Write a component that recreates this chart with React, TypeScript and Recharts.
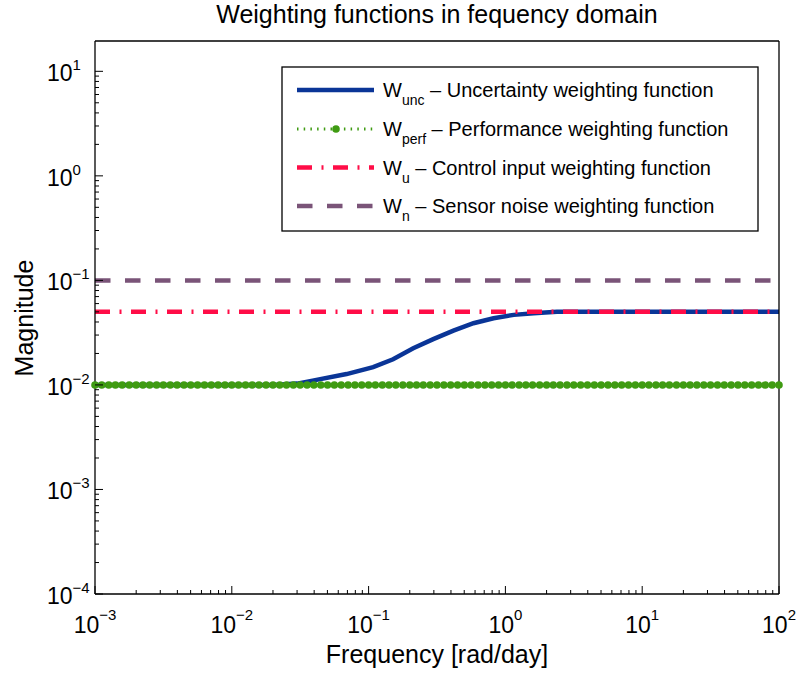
import { LineChart, Line, XAxis, YAxis } from "recharts";

const FONT = "'Liberation Sans', Arial, Helvetica, sans-serif";

// frequency grid of the sampled weights [rad/day]
const FREQ = [
  0.001, 0.00112, 0.00126, 0.00141, 0.00158, 0.00178, 0.002, 0.00224, 0.00251, 0.00282,
  0.00316, 0.00355, 0.00398, 0.00447, 0.00501, 0.00562, 0.00631, 0.00708, 0.00794, 0.00891,
  0.01, 0.0112, 0.0126, 0.0141, 0.0158, 0.0178, 0.02, 0.0224, 0.0251, 0.0282,
  0.0316, 0.0355, 0.0398, 0.0447, 0.0501, 0.0562, 0.0631, 0.0708, 0.0794, 0.0891,
  0.1, 0.112, 0.126, 0.141, 0.158, 0.178, 0.2, 0.224, 0.251, 0.282,
  0.316, 0.355, 0.398, 0.447, 0.501, 0.562, 0.631, 0.708, 0.794, 0.891,
  1, 1.12, 1.26, 1.41, 1.58, 1.78, 2, 2.24, 2.51, 2.82,
  3.16, 3.55, 3.98, 4.47, 5.01, 5.62, 6.31, 7.08, 7.94, 8.91,
  10, 11.2, 12.6, 14.1, 15.8, 17.8, 20, 22.4, 25.1, 28.2,
  31.6, 35.5, 39.8, 44.7, 50.1, 56.2, 63.1, 70.8, 79.4, 89.1, 100,
];

// W_unc
const UNC_FREQ = [0.001, 0.02, 0.03, 0.039, 0.069, 0.108, 0.151, 0.212, 0.297, 0.417, 0.584, 0.819, 1.15, 1.61, 2.38, 100];
const UNC_MAG = [0.01, 0.01, 0.0103, 0.011, 0.0127, 0.0148, 0.0176, 0.0224, 0.0274, 0.0331, 0.0389, 0.0434, 0.0468, 0.0485, 0.05, 0.05];

const PERF_LEVEL = 0.01;
const CTRL_LEVEL = 0.05;
const NOISE_LEVEL = 0.1;
const FLAT_FREQ = [0.001, 100];

const X_DECADES = [0.001, 0.01, 0.1, 1, 10, 100];
const Y_DECADES = [0.0001, 0.001, 0.01, 0.1, 1, 10];
const MINOR = [2, 3, 4, 5, 6, 7, 8, 9];
const X_DOMAIN = [0.001, 100];
const Y_DOMAIN = [0.0001, 19.5];

const uncData = UNC_FREQ.map((f, i) => ({ f, m: UNC_MAG[i] }));
const perfData = FREQ.map((f) => ({ f, m: PERF_LEVEL }));
const ctrlData = FLAT_FREQ.map((f) => ({ f, m: CTRL_LEVEL }));
const noiseData = FLAT_FREQ.map((f) => ({ f, m: NOISE_LEVEL }));

function withMinor(decades: number[], max: number) {
  const out: number[] = [];
  decades.forEach((d) => {
    out.push(d);
    MINOR.forEach((k) => {
      const v = +(d * k).toPrecision(6);
      if (v <= max) out.push(v);
    });
  });
  return out;
}
const X_TICKS = withMinor(X_DECADES, X_DOMAIN[1]);
const Y_TICKS = withMinor(Y_DECADES, Y_DOMAIN[1]);

const SERIES = [
  { key: "unc", sub: "unc", text: " \u2013 Uncertainty weighting function", color: "#0a3597", width: 4.5, dash: undefined as string | undefined, marker: false },
  { key: "perf", sub: "perf", text: " \u2013 Performance weighting function", color: "#3f9b12", width: 3, dash: "1.5 5.2", marker: true },
  { key: "ctrl", sub: "u", text: " \u2013 Control input weighting function", color: "#ff0d47", width: 4.5, dash: "15 9.5 2 9.5", marker: false },
  { key: "noise", sub: "n", text: " \u2013 Sensor noise weighting function", color: "#7a5478", width: 4.5, dash: "15.5 14.5", marker: false },
];
const SERIES_DATA: Record<string, { f: number; m: number }[]> = {
  unc: uncData,
  perf: perfData,
  ctrl: ctrlData,
  noise: noiseData,
};

function isDecade(v: number) {
  const l = Math.log10(v);
  return Math.abs(l - Math.round(l)) < 1e-6;
}
function expText(v: number) {
  const e = Math.round(Math.log10(v));
  return e < 0 ? `\u2212${-e}` : `${e}`;
}

function AxisTick(props: any) {
  const { x, y, payload, side } = props;
  const v = payload.value;
  const major = isDecade(v);
  const len = major ? 8 : 4;
  let tickLine;
  if (side === "bottom") tickLine = <line x1={x} x2={x} y1={y} y2={y - len} />;
  else if (side === "top") tickLine = <line x1={x} x2={x} y1={y} y2={y + len} />;
  else if (side === "left") tickLine = <line x1={x} x2={x + len} y1={y} y2={y} />;
  else tickLine = <line x1={x} x2={x - len} y1={y} y2={y} />;
  return (
    <g>
      <g stroke="#000" strokeWidth={1}>{tickLine}</g>
      {major && side === "bottom" && (
        <text x={x} y={y + 39} textAnchor="middle" fontSize={23} fontFamily={FONT} fill="#000">
          10<tspan dy={-13} fontSize={15}>{expText(v)}</tspan>
        </text>
      )}
      {major && side === "left" && (
        <text x={x - 48} y={y + 10} textAnchor="start" fontSize={23} fontFamily={FONT} fill="#000">
          10<tspan dy={-11} fontSize={15}>{expText(v)}</tspan>
        </text>
      )}
    </g>
  );
}

function LegendBox() {
  const rowY = [90, 129, 167.5, 206];
  return (
    <g>
      <rect x={282} y={67} width={476} height={164} fill="#fff" stroke="#000" strokeWidth={1.3} />
      {SERIES.map((s, i) => (
        <g key={s.key}>
          <line x1={297} x2={374} y1={rowY[i]} y2={rowY[i]} stroke={s.color} strokeWidth={s.width} strokeDasharray={s.dash} />
          {s.marker && <circle cx={336} cy={rowY[i]} r={3.8} fill={s.color} />}
          <text x={383} y={rowY[i] + 7} fontSize={20} fontFamily={FONT} fill="#000">
            W<tspan dy={8} fontSize={14}>{s.sub}</tspan>
            <tspan dy={-8} fontSize={20}>{s.text}</tspan>
          </text>
        </g>
      ))}
    </g>
  );
}

export default function App() {
  const axisLine = { stroke: "#000", strokeWidth: 1.3 };
  return (
    <div style={{ position: "absolute", left: 0, top: 0, width: 801, height: 675, background: "#fff" }}>
      <LineChart width={801} height={675} margin={{ top: 0, right: 0, bottom: 0, left: 0 }}>
        <XAxis
          xAxisId="b"
          type="number"
          dataKey="f"
          scale="log"
          domain={X_DOMAIN}
          ticks={X_TICKS}
          interval={0}
          height={81}
          tickSize={0}
          tickMargin={0}
          tickLine={false}
          axisLine={axisLine}
          tick={(p: any) => <AxisTick {...p} side="bottom" />}
        />
        <XAxis
          xAxisId="t"
          orientation="top"
          type="number"
          scale="log"
          domain={X_DOMAIN}
          ticks={X_TICKS}
          interval={0}
          height={41}
          tickSize={0}
          tickMargin={0}
          tickLine={false}
          axisLine={axisLine}
          tick={(p: any) => <AxisTick {...p} side="top" />}
        />
        <YAxis
          yAxisId="l"
          type="number"
          scale="log"
          domain={Y_DOMAIN}
          ticks={Y_TICKS}
          interval={0}
          width={95}
          tickSize={0}
          tickMargin={0}
          tickLine={false}
          axisLine={axisLine}
          tick={(p: any) => <AxisTick {...p} side="left" />}
        />
        <YAxis
          yAxisId="r"
          orientation="right"
          type="number"
          scale="log"
          domain={Y_DOMAIN}
          ticks={Y_TICKS}
          interval={0}
          width={22}
          tickSize={0}
          tickMargin={0}
          tickLine={false}
          axisLine={axisLine}
          tick={(p: any) => <AxisTick {...p} side="right" />}
        />
        {SERIES.map((s) => (
          <Line
            key={s.key}
            xAxisId="b"
            yAxisId="l"
            data={SERIES_DATA[s.key]}
            dataKey="m"
            type="linear"
            stroke={s.color}
            strokeWidth={s.width}
            strokeDasharray={s.dash}
            dot={s.marker ? { r: 3.8, fill: s.color, stroke: s.color, strokeWidth: 0 } : false}
            activeDot={false}
            isAnimationActive={false}
          />
        ))}
      </LineChart>
      <svg width={801} height={675} style={{ position: "absolute", left: 0, top: 0, pointerEvents: "none" }}>
        <text x={437} y={23} textAnchor="middle" fontSize={25} fontFamily={FONT} fill="#000">
          Weighting functions in fequency domain
        </text>
        <text x={437} y={663} textAnchor="middle" fontSize={25} fontFamily={FONT} fill="#000">
          Frequency [rad/day]
        </text>
        <text x={33} y={318} transform="rotate(-90 33 318)" textAnchor="middle" fontSize={25} fontFamily={FONT} fill="#000">
          Magnitude
        </text>
        <LegendBox />
      </svg>
    </div>
  );
}
